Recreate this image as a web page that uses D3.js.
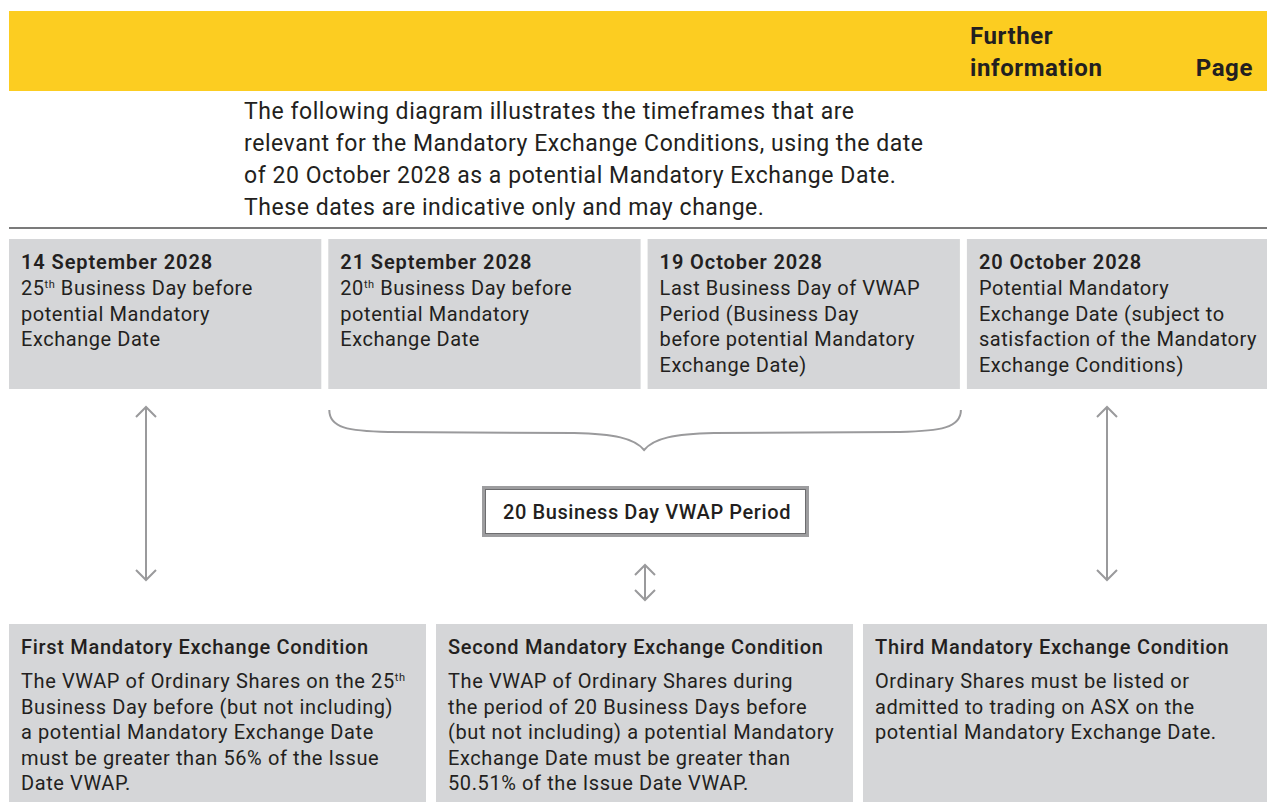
<!DOCTYPE html>
<html>
<head>
<meta charset="utf-8">
<script src="https://cdn.jsdelivr.net/npm/d3@7"></script>
<style>
  html, body { margin: 0; padding: 0; background: #fff; }
  svg { display: block; font-family: Roboto, "Noto Sans", sans-serif; }
</style>
</head>
<body>
<script>
// header + intro
var headerCols = ["Further", "information"];
var pageLabel = "Page";
var introLines = [
  "The following diagram illustrates the timeframes that are",
  "relevant for the Mandatory Exchange Conditions, using the date",
  "of 20 October 2028 as a potential Mandatory Exchange Date.",
  "These dates are indicative only and may change."
];

// timeline boxes ("^" marks a superscript)
var dates = ["14 September 2028", "21 September 2028", "19 October 2028", "20 October 2028"];
var dateLines = [
  ["25^th Business Day before", "potential Mandatory", "Exchange Date"],
  ["20^th Business Day before", "potential Mandatory", "Exchange Date"],
  ["Last Business Day of VWAP", "Period (Business Day", "before potential Mandatory", "Exchange Date)"],
  ["Potential Mandatory", "Exchange Date (subject to", "satisfaction of the Mandatory", "Exchange Conditions)"]
];

var periodLabel = "20 Business Day VWAP Period";

// condition boxes
var conditions = ["First Mandatory Exchange Condition", "Second Mandatory Exchange Condition", "Third Mandatory Exchange Condition"];
var conditionLines = [
  ["The VWAP of Ordinary Shares on the 25^th", "Business Day before (but not including)", "a potential Mandatory Exchange Date", "must be greater than 56% of the Issue", "Date VWAP."],
  ["The VWAP of Ordinary Shares during", "the period of 20 Business Days before", "(but not including) a potential Mandatory", "Exchange Date must be greater than", "50.51% of the Issue Date VWAP."],
  ["Ordinary Shares must be listed or", "admitted to trading on ASX on the", "potential Mandatory Exchange Date."]
];

var width = 1267, height = 802;
var ink = "#231f20", boxFill = "#d5d6d8", arrowGrey = "#9a9a9c";

var svg = d3.select("body").append("svg")
  .attr("width", width)
  .attr("height", height);

// yellow header band
svg.append("rect")
  .attr("x", 9).attr("y", 11)
  .attr("width", width - 9).attr("height", 80)
  .attr("fill", "#fccd21");

svg.append("text")
  .attr("x", 970).attr("y", 44)
  .attr("font-size", 24).attr("font-weight", 700).attr("fill", ink)
  .attr("letter-spacing", 0.6)
  .selectAll("tspan").data(headerCols).join("tspan")
  .attr("x", 970)
  .attr("dy", function(d, i) { return i ? 32 : 0 })
  .text(function(d) { return d });

svg.append("text")
  .attr("x", 1253).attr("y", 76)
  .attr("text-anchor", "end")
  .attr("font-size", 24).attr("font-weight", 700).attr("fill", ink)
  .attr("letter-spacing", 0.6)
  .text(pageLabel);

// intro paragraph
svg.append("text")
  .attr("font-size", 23).attr("fill", ink)
  .attr("letter-spacing", 0.55)
  .selectAll("tspan").data(introLines).join("tspan")
  .attr("x", 244)
  .attr("y", function(d, i) { return 119 + i * 32 })
  .text(function(d) { return d });

svg.append("line")
  .attr("x1", 9).attr("x2", width)
  .attr("y1", 228).attr("y2", 228)
  .attr("stroke", "#7b7b7b").attr("stroke-width", 2);

// writes a line, turning "^xx" into a superscript
function richLine(sel, str) {
  var parts = str.split("^");
  sel.append("tspan").text(parts[0]);
  if (parts.length > 1) {
    var m = parts[1].match(/^(\S+)(.*)$/);
    sel.append("tspan").attr("font-size", "0.55em").attr("dy", -7).text(m[1]);
    sel.append("tspan").attr("dy", 7).text(m[2]);
  }
}

// top row
var topStep = 319.3, topGap = 7;
var xTop = d3.scaleBand().domain(d3.range(dates.length))
  .range([9, 9 + dates.length * topStep - topGap]).paddingInner(topGap / topStep);

var topBoxes = svg.selectAll("g.top").data(dates).join("g")
  .attr("class", "top")
  .attr("transform", function(d, i) { return "translate(" + xTop(i) + ",239)" });

topBoxes.append("rect")
  .attr("width", xTop.bandwidth()).attr("height", 150)
  .attr("fill", boxFill);

topBoxes.append("text")
  .attr("x", 12).attr("y", 30)
  .attr("font-size", 20).attr("font-weight", 600).attr("fill", ink)
  .attr("letter-spacing", 0.9)
  .text(function(d) { return d });

topBoxes.each(function(d, i) {
  var g = d3.select(this);
  dateLines[i].forEach(function(l, j) {
    var t = g.append("text")
      .attr("x", 12).attr("y", 56 + j * 25.5)
      .attr("font-size", 20).attr("fill", ink)
      .attr("letter-spacing", 0.55);
    richLine(t, l);
  });
});

// arrows
function vArrow(x, y1, y2) {
  var g = svg.append("g")
    .attr("fill", "none").attr("stroke", arrowGrey).attr("stroke-width", 2);
  g.append("line").attr("x1", x).attr("x2", x).attr("y1", y1).attr("y2", y2);
  g.append("path").attr("d", d3.line()([[x - 10, y1 + 10], [x, y1], [x + 10, y1 + 10]]));
  g.append("path").attr("d", d3.line()([[x - 10, y2 - 10], [x, y2], [x + 10, y2 - 10]]));
}
vArrow(146, 407, 580);
vArrow(1107, 407, 580);
vArrow(645, 565, 600);

// brace over the VWAP period (boxes 2 and 3)
var bL = xTop(1), bR = xTop(2) + xTop.bandwidth(), bM = (bL + bR) / 2;
var brace = d3.path();
brace.moveTo(bL + 1, 410);
brace.bezierCurveTo(bL + 1, 428, bL + 20, 431, bL + 60, 432);
brace.lineTo(bM - 70, 433);
brace.bezierCurveTo(bM - 30, 434, bM - 10, 438, bM, 450);
brace.bezierCurveTo(bM + 10, 438, bM + 30, 434, bM + 70, 433);
brace.lineTo(bR - 60, 432);
brace.bezierCurveTo(bR - 20, 431, bR + 1, 428, bR + 1, 410);
svg.append("path")
  .attr("d", brace.toString())
  .attr("fill", "none").attr("stroke", arrowGrey).attr("stroke-width", 2);

// period box
svg.append("rect")
  .attr("x", 483.5).attr("y", 487.5).attr("width", 324).attr("height", 48)
  .attr("fill", "#fff").attr("stroke", "#9d9d9f").attr("stroke-width", 3);
svg.append("rect")
  .attr("x", 485.5).attr("y", 489.5).attr("width", 320).attr("height", 44)
  .attr("fill", "none").attr("stroke", "#6d6d6f").attr("stroke-width", 1);
svg.append("text")
  .attr("x", 647).attr("y", 519)
  .attr("text-anchor", "middle")
  .attr("font-size", 20).attr("font-weight", 500).attr("fill", ink)
  .attr("letter-spacing", 0.6)
  .text(periodLabel);

// bottom row
var botStep = 427, botGap = 10;
var xBot = d3.scaleBand().domain(d3.range(conditions.length))
  .range([9, 9 + conditions.length * botStep - botGap]).paddingInner(botGap / botStep);

var botBoxes = svg.selectAll("g.bot").data(conditions).join("g")
  .attr("class", "bot")
  .attr("transform", function(d, i) { return "translate(" + xBot(i) + ",624)" });

botBoxes.append("rect")
  .attr("width", xBot.bandwidth()).attr("height", 180)
  .attr("fill", boxFill);

botBoxes.append("text")
  .attr("x", 12).attr("y", 30)
  .attr("font-size", 20).attr("font-weight", 500).attr("fill", ink)
  .attr("letter-spacing", 0.7)
  .text(function(d) { return d });

botBoxes.each(function(d, i) {
  var g = d3.select(this);
  conditionLines[i].forEach(function(l, j) {
    var t = g.append("text")
      .attr("x", 12).attr("y", 64 + j * 25.5)
      .attr("font-size", 20).attr("fill", ink)
      .attr("letter-spacing", 0.6);
    richLine(t, l);
  });
});
</script>
</body>
</html>
